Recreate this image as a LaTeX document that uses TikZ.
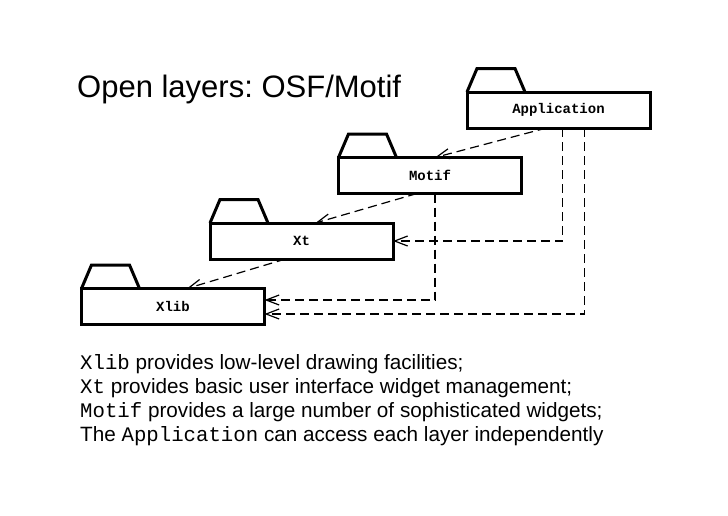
\documentclass[tikz,border=0pt]{standalone}
\usepackage{fontspec}
\setmainfont{Liberation Sans}
\setmonofont{Liberation Mono}
\usepackage{tikz}
\usetikzlibrary{positioning, arrows.meta, calc}
\frenchspacing

\begin{document}
\begin{tikzpicture}[x=1pt,y=-1pt,>={Straight Barb[length=13pt,width=10pt]},
    layer/.style={draw, line width=3pt, outer sep=0pt, minimum width=183pt, minimum height=36pt, inner sep=0pt, font=\ttfamily\bfseries\fontsize{14}{16}\selectfont},
    tab/.style={line width=3pt, line join=miter},
    uses/.style={->, line width=1.2pt, dash pattern=on 9pt off 5pt},
    body/.style={inner sep=0pt, anchor=base west, font=\fontsize{20.7}{24}\selectfont}]
        \useasboundingbox (0,0) rectangle (728,515);

        % Title
        \node (title) [inner sep=0pt, anchor=base west, font=\fontsize{31}{37}\selectfont] at (77,97) {Open layers: OSF/Motif};

        % Nodes
        \node (xlib) [layer] at (173,306.5) {Xlib};
        \node (xt) [layer, above right=29.5pt and -54.5pt of xlib] {Xt};
        \node (motif) [layer, above right=29.5pt and -54.5pt of xt] {Motif};
        \node (app) [layer, above right=29.5pt and -54.5pt of motif] {Application};

        % Tabs
        \foreach \n in {xlib,xt,motif,app}
            \draw[tab] (\n.north west) -- ++(10,-23.5) -- ++(38,0) -- ++(10,23.5);

        % Arrows
        \draw[uses] ($(app.south)+(-12,0)$) -- ($(motif.north)+(5,0)$);
        \draw[uses] ($(motif.south)+(-13,0)$) -- ($(xt.north)+(14,0)$);
        \draw[uses] ($(xt.south)+(-16,0)$) -- ($(xlib.north)+(14,0)$);
        \draw[uses] ($(app.south)+(4,0)$) |- (xt.east);
        \draw[uses] ($(motif.south)+(5,0)$) |- ($(xlib.east)+(0,-6.5)$);
        \draw[uses] ($(app.south)+(26,0)$) |- ($(xlib.east)+(0,7.5)$);

        % Text
        \node (l1) [body] at (80,369) {\texttt{Xlib} provides low-level drawing facilities;};
        \node (l2) [body, below=24pt of l1.base west, anchor=base west] {\texttt{Xt} provides basic user interface widget management;};
        \node (l3) [body, below=24pt of l2.base west, anchor=base west] {\texttt{Motif} provides a large number of sophisticated widgets;};
        \node (l4) [body, below=24pt of l3.base west, anchor=base west] {The \texttt{Application} can access each layer independently};
    \end{tikzpicture}
\end{document}
